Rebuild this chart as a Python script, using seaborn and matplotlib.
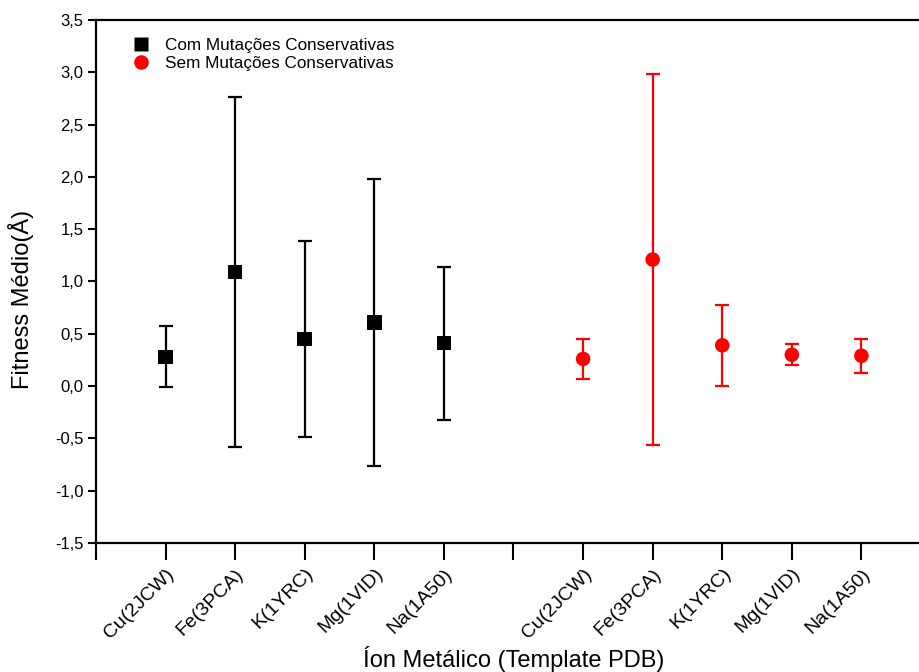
import matplotlib
matplotlib.use("Agg")
import matplotlib.pyplot as plt
import seaborn as sns
import pandas as pd
import numpy as np

ions = ["Cu(2JCW)", "Fe(3PCA)", "K(1YRC)", "Mg(1VID)", "Na(1A50)"]
series_names = ["Com Mutações Conservativas", "Sem Mutações Conservativas"]
com_mean = [0.28, 1.09, 0.45, 0.61, 0.41]
com_err = [0.29, 1.67, 0.94, 1.37, 0.73]
sem_mean = [0.26, 1.21, 0.39, 0.30, 0.29]
sem_err = [0.19, 1.77, 0.39, 0.10, 0.16]
com_pos = [1, 2, 3, 4, 5]
sem_pos = [7, 8, 9, 10, 11]
y_ticks = [-1.5, -1.0, -0.5, 0.0, 0.5, 1.0, 1.5, 2.0, 2.5, 3.0, 3.5]

sns.set_theme(style="white")
plt.rcParams['font.family'] = ['Liberation Sans', 'DejaVu Sans']
plt.rcParams['text.color'] = 'black'
plt.rcParams['axes.labelcolor'] = 'black'
plt.rcParams['xtick.color'] = 'black'
plt.rcParams['ytick.color'] = 'black'

df = pd.DataFrame({
    "pos": com_pos + sem_pos,
    "mean": com_mean + sem_mean,
    "err": com_err + sem_err,
    "serie": [series_names[0]] * 5 + [series_names[1]] * 5,
})

fig = plt.figure(figsize=(9.2, 6.72), dpi=100)
ax = fig.add_axes([96 / 920, 129 / 672, 835 / 920, 523 / 672])

colors = {series_names[0]: "black", series_names[1]: "red"}
for name, sub in df.groupby("serie", sort=False):
    ax.errorbar(sub["pos"], sub["mean"], yerr=sub["err"], fmt="none",
                ecolor=colors[name], elinewidth=1.6, capsize=5, capthick=1.6, zorder=2)

sns.scatterplot(data=df, x="pos", y="mean", hue="serie", style="serie",
                palette=colors, markers={series_names[0]: "s", series_names[1]: "o"},
                s=110, edgecolor="none", ax=ax, zorder=3, legend=True)

ax.set_xlim(0, 12)
ax.set_ylim(-1.5, 3.5)
ax.set_yticks(y_ticks)
ax.set_yticklabels([f"{v:.1f}".replace(".", ",") for v in y_ticks], fontsize=12)
ax.set_xticks(list(range(0, 13)))
xlabels = [""] + ions + [""] + ions + [""]
ax.set_xticklabels(xlabels, rotation=45, ha="right", rotation_mode="anchor", fontsize=14)

ax.tick_params(axis="y", direction="out", length=6, width=1.5, left=True, pad=3)
ax.tick_params(axis="x", direction="out", length=12, width=1.5, bottom=True, pad=4)

for s in ["left", "bottom", "top", "right"]:
    ax.spines[s].set_linewidth(1.6)
    ax.spines[s].set_color("black")

ax.set_ylabel("Fitness Médio(Å)", fontsize=17)
ax.yaxis.set_label_coords(-0.074, 0.465)
ax.set_xlabel("Íon Metálico (Template PDB)", fontsize=17)
ax.xaxis.set_label_coords(0.5, -0.197)

leg = ax.legend(loc="upper left", bbox_to_anchor=(0.015, 0.995), frameon=False,
                fontsize=12.3, handletextpad=0.4, labelspacing=0.15, markerscale=1.0)

fig.savefig("out.png", dpi=100)
